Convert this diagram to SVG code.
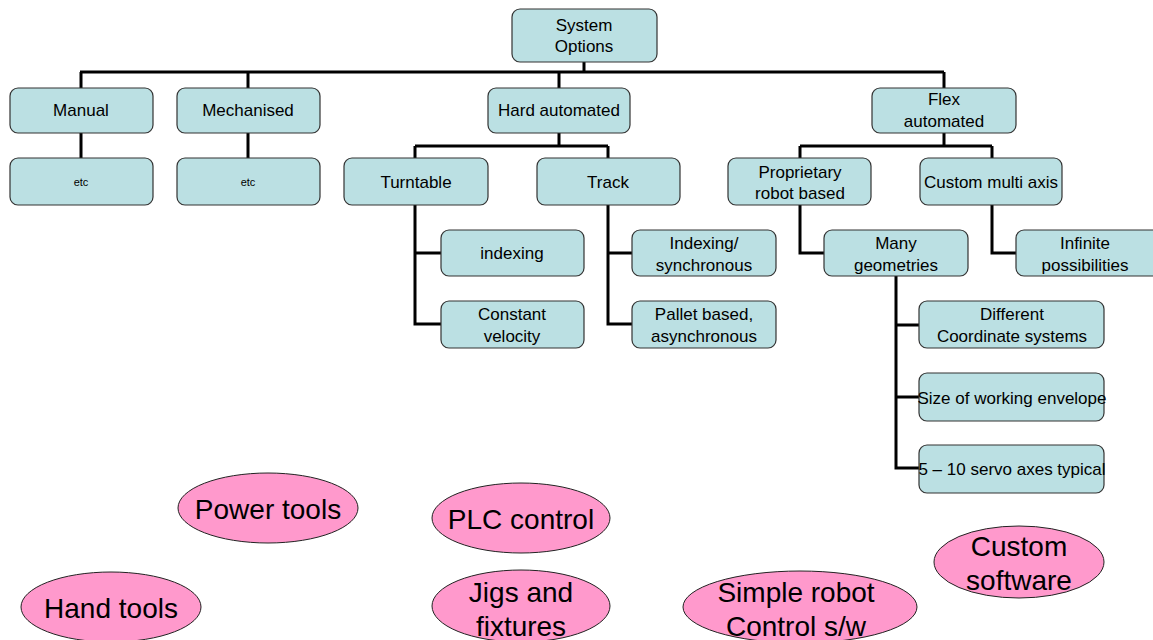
<svg xmlns="http://www.w3.org/2000/svg" width="1153" height="640" viewBox="0 0 1153 640">
<style>
.box{fill:#BBE0E3;stroke:#333;stroke-width:1.2}
.t{font-family:"Liberation Sans",Arial,sans-serif;font-size:17px;fill:#000;text-anchor:middle;dominant-baseline:central}
.s{font-size:11px}
.ell{fill:#FF99CC;stroke:#222;stroke-width:1}
.et{font-family:"Liberation Sans",Arial,sans-serif;font-size:28px;fill:#000;text-anchor:middle;dominant-baseline:central}
.c{fill:none;stroke:#000;stroke-width:3}
</style>
<rect width="1153" height="640" fill="#fff"/>
<g id="connectors">
<path class="c" d="M584 62V72M80 72H944M81 72V88M248 72V88M559 72V88M944 72V88"/>
<path class="c" d="M81 133V158M248 133V158"/>
<path class="c" d="M559 133V146M415 146H608M415 146V158M608 146V158"/>
<path class="c" d="M944 133V146M800 146H992M800 146V158M992 146V158"/>
<path class="c" d="M415 205V324H441M415 253H441"/>
<path class="c" d="M608 205V324H632M608 253H632"/>
<path class="c" d="M800 205V253H824"/>
<path class="c" d="M992 205V253H1016"/>
<path class="c" d="M896 276V468H919M896 325H919M896 397H919"/>
</g>
<g id="system-options"><rect class="box" x="512" y="9" width="145" height="53" rx="8"/><text class="t" x="584" y="25">System</text><text class="t" x="584" y="46">Options</text></g>
<g id="manual"><rect class="box" x="10" y="88" width="143" height="45" rx="8"/><text class="t" x="81" y="110">Manual</text></g>
<g id="mechanised"><rect class="box" x="177" y="88" width="143" height="45" rx="8"/><text class="t" x="248" y="110">Mechanised</text></g>
<g id="hard-automated"><rect class="box" x="488" y="88" width="142" height="45" rx="8"/><text class="t" x="559" y="110">Hard automated</text></g>
<g id="flex-automated"><rect class="box" x="872" y="88" width="144" height="45" rx="8"/><text class="t" x="944" y="99">Flex</text><text class="t" x="944" y="121">automated</text></g>
<g id="etc-manual"><rect class="box" x="10" y="158" width="143" height="47" rx="8"/><text class="t s" x="81" y="182">etc</text></g>
<g id="etc-mechanised"><rect class="box" x="177" y="158" width="143" height="47" rx="8"/><text class="t s" x="248" y="182">etc</text></g>
<g id="turntable"><rect class="box" x="344" y="158" width="144" height="47" rx="8"/><text class="t" x="416" y="182">Turntable</text></g>
<g id="track"><rect class="box" x="537" y="158" width="143" height="47" rx="8"/><text class="t" x="608" y="182">Track</text></g>
<g id="proprietary"><rect class="box" x="728" y="158" width="143" height="47" rx="8"/><text class="t" x="800" y="172">Proprietary</text><text class="t" x="800" y="193">robot based</text></g>
<g id="custom-multi-axis"><rect class="box" x="920" y="158" width="142" height="47" rx="8"/><text class="t" x="991" y="182">Custom multi axis</text></g>
<g id="indexing"><rect class="box" x="441" y="230" width="143" height="46" rx="8"/><text class="t" x="512" y="253">indexing</text></g>
<g id="constant-velocity"><rect class="box" x="441" y="301" width="143" height="47" rx="8"/><text class="t" x="512" y="314">Constant</text><text class="t" x="512" y="336">velocity</text></g>
<g id="indexing-sync"><rect class="box" x="632" y="230" width="144" height="46" rx="8"/><text class="t" x="704" y="243">Indexing/</text><text class="t" x="704" y="265">synchronous</text></g>
<g id="pallet"><rect class="box" x="632" y="301" width="144" height="47" rx="8"/><text class="t" x="704" y="314">Pallet based,</text><text class="t" x="704" y="336">asynchronous</text></g>
<g id="many-geometries"><rect class="box" x="824" y="230" width="144" height="46" rx="8"/><text class="t" x="896" y="243">Many</text><text class="t" x="896" y="265">geometries</text></g>
<g id="infinite"><rect class="box" x="1016" y="230" width="146" height="46" rx="8"/><text class="t" x="1085" y="243">Infinite</text><text class="t" x="1085" y="265">possibilities</text></g>
<g id="coordinate"><rect class="box" x="919" y="301" width="185" height="47" rx="8"/><text class="t" x="1012" y="314">Different</text><text class="t" x="1012" y="336">Coordinate systems</text></g>
<g id="envelope"><rect class="box" x="919" y="373" width="185" height="48" rx="8"/><text class="t" x="1012" y="398">Size of working envelope</text></g>
<g id="servo"><rect class="box" x="919" y="445" width="185" height="48" rx="8"/><text class="t" x="1012" y="469">5 – 10 servo axes typical</text></g>
<g id="power-tools"><ellipse class="ell" cx="268" cy="508" rx="90" ry="35"/><text class="et" x="268" y="509">Power tools</text></g>
<g id="plc-control"><ellipse class="ell" cx="521" cy="518" rx="89" ry="35"/><text class="et" x="521" y="519">PLC control</text></g>
<g id="hand-tools"><ellipse class="ell" cx="111" cy="607" rx="90" ry="35"/><text class="et" x="111" y="608">Hand tools</text></g>
<g id="jigs"><ellipse class="ell" cx="521" cy="606" rx="89" ry="36"/><text class="et" x="521" y="592">Jigs and</text><text class="et" x="521" y="626">fixtures</text></g>
<g id="simple-robot"><ellipse class="ell" cx="800" cy="607" rx="117" ry="36"/><text class="et" x="796" y="592">Simple robot</text><text class="et" x="796" y="626">Control s/w</text></g>
<g id="custom-software"><ellipse class="ell" cx="1019" cy="562" rx="85" ry="36"/><text class="et" x="1019" y="546">Custom</text><text class="et" x="1019" y="580">software</text></g>
</svg>
